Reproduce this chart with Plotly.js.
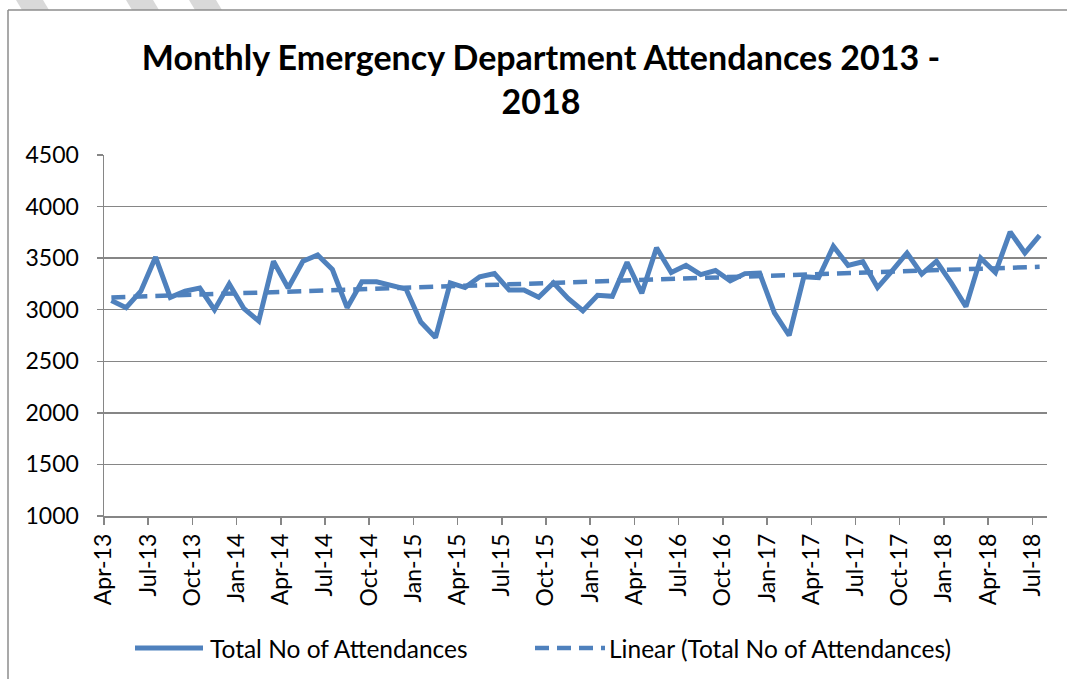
<!DOCTYPE html>
<html>
<head>
<meta charset="utf-8">
<script src="https://cdn.plot.ly/plotly-3.0.1.min.js"></script>
<style>html,body{margin:0;padding:0;background:#fff;overflow:hidden;}#chart{width:1067px;height:679px;}</style>
</head>
<body>
<div id="chart"></div>
<script>
// Month labels (one per data point), Apr-13 .. Jul-18
const months = ["Apr-13","May-13","Jun-13","Jul-13","Aug-13","Sep-13","Oct-13","Nov-13","Dec-13",
  "Jan-14","Feb-14","Mar-14","Apr-14","May-14","Jun-14","Jul-14","Aug-14","Sep-14","Oct-14","Nov-14","Dec-14",
  "Jan-15","Feb-15","Mar-15","Apr-15","May-15","Jun-15","Jul-15","Aug-15","Sep-15","Oct-15","Nov-15","Dec-15",
  "Jan-16","Feb-16","Mar-16","Apr-16","May-16","Jun-16","Jul-16","Aug-16","Sep-16","Oct-16","Nov-16","Dec-16",
  "Jan-17","Feb-17","Mar-17","Apr-17","May-17","Jun-17","Jul-17","Aug-17","Sep-17","Oct-17","Nov-17","Dec-17",
  "Jan-18","Feb-18","Mar-18","Apr-18","May-18","Jun-18","Jul-18"];

// Total No of Attendances
const attendances = [3090,3020,3180,3510,3120,3180,3210,3000,3250,3010,2890,3470,
  3210,3470,3530,3390,3020,3270,3270,3235,3200,2880,2730,3260,
  3215,3320,3350,3190,3190,3120,3260,3110,2990,3140,3130,3460,
  3160,3600,3360,3430,3340,3380,3280,3350,3355,2970,2750,3320,
  3310,3615,3430,3465,3215,3380,3550,3345,3470,3260,3030,3500,
  3360,3755,3550,3720];

// Quarterly tick labels on the x axis
const tickLabels = ["Apr-13","Jul-13","Oct-13","Jan-14","Apr-14","Jul-14","Oct-14","Jan-15","Apr-15","Jul-15","Oct-15",
  "Jan-16","Apr-16","Jul-16","Oct-16","Jan-17","Apr-17","Jul-17","Oct-17","Jan-18","Apr-18","Jul-18"];

const yTicks = [1000,1500,2000,2500,3000,3500,4000,4500];

const seriesNames = ["Total No of Attendances","Linear (Total No of Attendances)"];

// x positions: each month centred in its slot; ticks at month starts
const xs = months.map((m,i)=>i);
const tickVals = tickLabels.map(l => months.indexOf(l) - 0.5);

// Linear trend (least squares), as the spreadsheet's "Linear" trendline
const n = xs.length;
const mx = xs.reduce((a,b)=>a+b,0)/n;
const my = attendances.reduce((a,b)=>a+b,0)/n;
let sxy=0,sxx=0;
for(let i=0;i<n;i++){sxy+=(xs[i]-mx)*(attendances[i]-my);sxx+=(xs[i]-mx)*(xs[i]-mx);}
const slope = sxy/sxx, icpt = my - slope*mx;
const trend = xs.map(x=>icpt+slope*x);

const blue = '#4F81BD';
const FONT = 'Lato, "Open Sans", sans-serif';
const DASH = '14px,8px';

// plot area geometry (px) for decorative shapes and the legend
const L=104, R=1047, T=155, B=516;
const px = x => (x-L)/(R-L);
const py = y => (B-y)/(B-T);
function poly(pts){return 'M'+pts.map(p=>px(p[0])+','+py(p[1])).join(' L')+' Z';}

const legY = 648;
const shapes = [
  // faint diagonal stripes at the top (background)
  {type:'path', xref:'paper', yref:'paper', path: poly([[16,0],[43,0],[49,10],[22,10]]), fillcolor:'#d9d9d9', line:{width:0}, layer:'below'},
  {type:'path', xref:'paper', yref:'paper', path: poly([[126,0],[153,0],[159,10],[132,10]]), fillcolor:'#d9d9d9', line:{width:0}, layer:'below'},
  {type:'path', xref:'paper', yref:'paper', path: poly([[189,0],[216,0],[222,10],[195,10]]), fillcolor:'#d9d9d9', line:{width:0}, layer:'below'},
  // chart area border (top and left edges visible)
  {type:'line', xref:'paper', yref:'paper', x0:px(8), x1:px(1200), y0:py(10), y1:py(10), line:{color:'#8c8c8c', width:1.5}},
  {type:'line', xref:'paper', yref:'paper', x0:px(8), x1:px(8), y0:py(10), y1:py(800), line:{color:'#8c8c8c', width:1.5}},
  // legend keys
  {type:'line', xref:'paper', yref:'paper', x0:px(135), x1:px(203), y0:py(legY), y1:py(legY), line:{color:blue, width:5}},
  {type:'line', xref:'paper', yref:'paper', x0:px(535), x1:px(605), y0:py(legY), y1:py(legY), line:{color:blue, width:4.5, dash:DASH}}
];

const annotations = [
  {xref:'paper', yref:'paper', x:px(208), y:py(legY), xanchor:'left', yanchor:'middle', showarrow:false,
   text:seriesNames[0], font:{family:FONT, size:24.5, color:'#000'}},
  {xref:'paper', yref:'paper', x:px(607), y:py(legY), xanchor:'left', yanchor:'middle', showarrow:false,
   text:seriesNames[1], font:{family:FONT, size:24.5, color:'#000'}}
];

const data = [
  {x: xs, y: attendances, type:'scatter', mode:'lines', name:seriesNames[0],
   line:{color:blue, width:5}},
  {x: xs, y: trend, type:'scatter', mode:'lines', name:seriesNames[1],
   line:{color:blue, width:4.5, dash:DASH}}
];

const layout = {
  width:1067, height:679,
  margin:{l:L, r:1067-R, t:T, b:679-B, pad:0},
  paper_bgcolor:'#ffffff', plot_bgcolor:'#ffffff',
  font:{family:FONT, color:'#000000', size:22},
  title:{text:'<b>Monthly Emergency Department Attendances 2013 -<br>2018</b>',
    font:{family:FONT, size:34, color:'#000000'},
    x:541/1067, xanchor:'center', xref:'container', y:1-70/679, yanchor:'middle', yref:'container'},
  xaxis:{range:[-0.5,63.5], tickmode:'array', tickvals:tickVals, ticktext:tickLabels,
    tickangle:-90, ticks:'outside', ticklen:7, tickcolor:'#868686', tickwidth:1.5,
    showgrid:false, zeroline:false, showline:true, linecolor:'#868686', linewidth:1.5,
    tickfont:{family:FONT, size:23, color:'#000'}, fixedrange:true},
  yaxis:{range:[1000,4500], tickmode:'array', tickvals:yTicks,
    ticks:'outside', ticklen:6, tickcolor:'#868686', tickwidth:1.5, ticklabelstandoff:13,
    showgrid:true, gridcolor:'#868686', gridwidth:1.5, zeroline:false,
    showline:true, linecolor:'#868686', linewidth:1.5,
    tickfont:{family:FONT, size:23, color:'#000'}, fixedrange:true},
  showlegend:false,
  shapes: shapes,
  annotations: annotations
};

Plotly.newPlot('chart', data, layout, {displayModeBar:false, staticPlot:true});
</script>
</body>
</html>
